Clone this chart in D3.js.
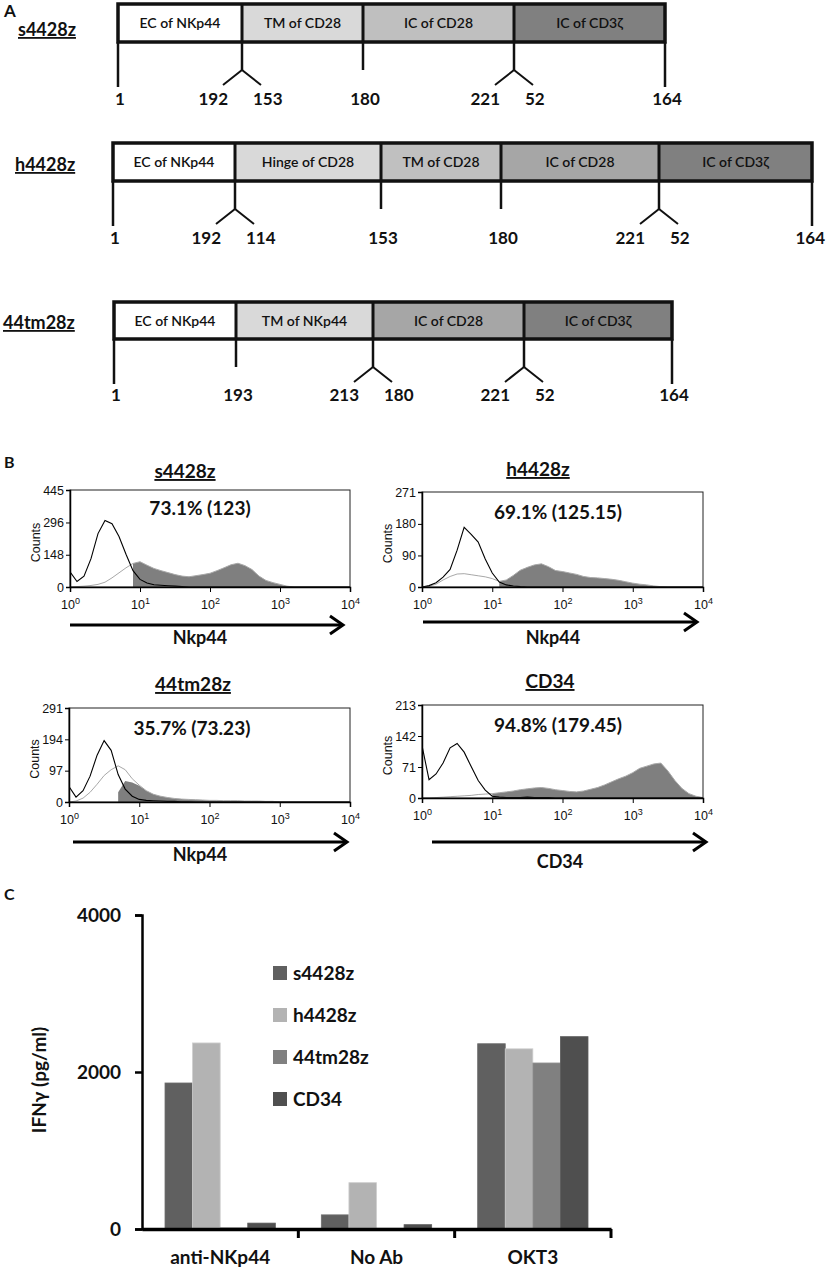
<!DOCTYPE html>
<html lang="en">
<head>
<meta charset="UTF-8">
<title>NKp44 CAR constructs</title>
<style>
  body { margin: 0; background: #fff; }
  svg text { font-family: Lato, "Open Sans", sans-serif; fill: #111; }
</style>
</head>
<body>
<div id="chart-container"></div>
<script src="https://d3js.org/d3.v7.min.js"></script>
<script>
// ---------- panel A: construct maps ----------
const constructNames = ["s4428z", "h4428z", "44tm28z"];
const s4428zDomains = ["EC of NKp44", "TM of CD28", "IC of CD28", "IC of CD3ζ"];
const h4428zDomains = ["EC of NKp44", "Hinge of CD28", "TM of CD28", "IC of CD28", "IC of CD3ζ"];
const tm28zDomains = ["EC of NKp44", "TM of NKp44", "IC of CD28", "IC of CD3ζ"];
const s4428zResidues = [["1"], ["192", "153"], ["180"], ["221", "52"], ["164"]];
const h4428zResidues = [["1"], ["192", "114"], ["153"], ["180"], ["221", "52"], ["164"]];
const tm28zResidues = [["1"], ["193"], ["213", "180"], ["221", "52"], ["164"]];

// ---------- panel B: flow histograms (x = log10 fluorescence) ----------
const logBins = [0, 0.1, 0.2, 0.3, 0.4, 0.5, 0.6, 0.7, 0.8, 0.9, 1, 1.1, 1.2, 1.3, 1.4, 1.5, 1.6, 1.7, 1.8, 1.9,
  2, 2.1, 2.2, 2.3, 2.4, 2.5, 2.6, 2.7, 2.8, 2.9, 3, 3.1, 3.2, 3.3, 3.4, 3.5, 3.6, 3.7, 3.8, 3.9, 4];
const histTitles = ["s4428z", "h4428z", "44tm28z", "CD34"];
const histPercents = ["73.1% (123)", "69.1% (125.15)", "35.7% (73.23)", "94.8% (179.45)"];
const histAxisLabels = ["Nkp44", "Nkp44", "Nkp44", "CD34"];
const histYTicks = [[0, 148, 296, 445], [0, 90, 180, 271], [0, 97, 194, 291], [0, 71, 142, 213]];
const decadeTicks = [0, 1, 2, 3, 4];

const s4428zNeg = [70, 25, 50, 130, 245, 305, 290, 232, 150, 75, 35, 18, 10, 8, 6, 4, 2, 0, 0, 0,
  0, 0, 0, 0, 0, 0, 0, 0, 0, 0, 0, 0, 0, 0, 0, 0, 0, 0, 0, 0, 0];
const s4428zTotal = [0, 2, 4, 7, 12, 22, 42, 65, 88, 108, 116, 100, 85, 75, 66, 57, 50, 47, 52, 57,
  63, 75, 88, 102, 109, 98, 80, 50, 30, 20, 12, 4, 0, 0, 0, 0, 0, 0, 0, 0, 0];
const s4428zPos = [null, null, null, null, null, null, null, null, null, 108, 116, 100, 85, 75, 66, 57, 50, 47, 52, 57,
  63, 75, 88, 102, 109, 98, 80, 50, 30, 20, 12, 4, 0, null, null, null, null, null, null, null, null];

const h4428zNeg = [0, 4, 12, 28, 50, 105, 170, 150, 128, 80, 40, 14, 6, 3, 1, 0, 0, 0, 0, 0,
  0, 0, 0, 0, 0, 0, 0, 0, 0, 0, 0, 0, 0, 0, 0, 0, 0, 0, 0, 0, 0];
const h4428zTotal = [0, 2, 8, 20, 30, 37, 38, 35, 32, 29, 24, 16, 20, 33, 48, 56, 63, 66, 58, 47,
  44, 40, 36, 30, 27, 26, 24, 22, 19, 15, 11, 8, 6, 3, 1, 0, 0, 0, 0, 0, 0];
const h4428zPos = [null, null, null, null, null, null, null, null, null, null, null, 16, 20, 33, 48, 56, 63, 66, 58, 47,
  44, 40, 36, 30, 27, 26, 24, 22, 19, 15, 11, 8, 6, 3, 1, 0, null, null, null, null, null];

const tm28zNeg = [48, 15, 35, 80, 145, 190, 160, 85, 40, 18, 8, 5, 4, 3, 2, 2, 1, 1, 0, 0,
  0, 0, 0, 0, 0, 0, 0, 0, 0, 0, 0, 0, 0, 0, 0, 0, 0, 0, 0, 0, 0];
const tm28zTotal = [0, 3, 12, 30, 55, 82, 100, 112, 100, 72, 52, 35, 24, 18, 14, 11, 9, 8, 7, 6,
  5, 5, 4, 4, 4, 3, 3, 3, 2, 2, 0, 0, 0, 0, 0, 0, 0, 0, 0, 0, 0];
const tm28zPos = [null, null, null, null, null, null, null, 30, 65, 60, 50, 35, 24, 18, 14, 11, 9, 8, 7, 6,
  5, 5, 4, 4, 4, 3, 3, 3, 2, 2, 0, null, null, null, null, null, null, null, null, null, null];

const cd34Neg = [120, 42, 55, 80, 115, 125, 105, 72, 40, 18, 4, 2, 1, 1, 1, 2, 1, 1, 1, 0,
  0, 0, 0, 0, 0, 0, 0, 0, 0, 0, 0, 0, 0, 0, 0, 0, 0, 0, 0, 0, 0];
const cd34Total = [0, 0, 1, 2, 3, 4, 5, 6, 8, 9, 10, 12, 14, 16, 19, 21, 23, 24, 22, 19,
  17, 15, 14, 16, 20, 24, 30, 37, 44, 50, 58, 68, 73, 78, 80, 62, 40, 22, 10, 4, 1];
const cd34Pos = [null, null, null, null, null, null, null, null, null, null, 10, 12, 14, 16, 19, 21, 23, 24, 22, 19,
  17, 15, 14, 16, 20, 24, 30, 37, 44, 50, 58, 68, 73, 78, 80, 62, 40, 22, 10, 4, 1];

// ---------- panel C: IFN-gamma release ----------
const conditions = ["anti-NKp44", "No Ab", "OKT3"];
const constructs = ["s4428z", "h4428z", "44tm28z", "CD34"];
const s4428zIfn = [1860, 180, 2360];
const h4428zIfn = [2370, 590, 2295];
const tm28zIfn = [15, 10, 2115];
const cd34Ifn = [75, 55, 2450];
const ifnTicks = [0, 2000, 4000];

const NARROW = "'Liberation Sans Narrow','Liberation Sans',Arial,sans-serif";
const W = 827, H_ALL = 1274;

const svg = d3.select("#chart-container").append("svg")
  .attr("width", W).attr("height", H_ALL);
svg.append("rect").attr("width", W).attr("height", H_ALL).attr("fill", "#fff");

// ================= panel A =================
const ROWS = [
  {top: 4, bottom: 42, edges: [118, 242, 363, 514, 665], nameX: 18, nameY: 36, labelY: 105,
   fills: ["#ffffff", "#d9d9d9", "#bfbfbf", "#808080"]},
  {top: 143, bottom: 181, edges: [113, 235, 381, 501, 659, 812], nameX: 15, nameY: 171, labelY: 244,
   fills: ["#ffffff", "#d9d9d9", "#c0c0c0", "#a6a6a6", "#808080"]},
  {top: 302, bottom: 339, edges: [114, 236, 373, 524, 672], nameX: 3, nameY: 329, labelY: 401,
   fills: ["#ffffff", "#d9d9d9", "#a6a6a6", "#808080"]}
];
const rowDomains = [s4428zDomains, h4428zDomains, tm28zDomains];
const rowResidues = [s4428zResidues, h4428zResidues, tm28zResidues];

svg.append("text").attr("x", 4).attr("y", 17).attr("font-size", 17).attr("font-weight", "bold").text("A");

constructNames.forEach((name, i) => {
  const L = ROWS[i];
  const g = svg.append("g");
  g.append("text").attr("x", L.nameX).attr("y", L.nameY)
    .attr("font-size", 18).attr("font-weight", "bold")
    .attr("text-decoration", "underline").text(name);

  rowDomains[i].forEach((d, j) => {
    const x0 = L.edges[j], x1 = L.edges[j + 1];
    g.append("rect").attr("x", x0).attr("y", L.top).attr("width", x1 - x0).attr("height", L.bottom - L.top)
      .attr("fill", L.fills[j]).attr("stroke", "none");
    g.append("text").attr("x", (x0 + x1) / 2).attr("y", (L.top + L.bottom) / 2 + 5)
      .attr("text-anchor", "middle").attr("font-size", 14).attr("font-weight", 600).text(d);
  });
  // outer frame + dividers
  g.append("rect").attr("x", L.edges[0]).attr("y", L.top)
    .attr("width", L.edges[L.edges.length - 1] - L.edges[0]).attr("height", L.bottom - L.top)
    .attr("fill", "none").attr("stroke", "#111").attr("stroke-width", 3.5);
  L.edges.slice(1, -1).forEach(x => {
    g.append("line").attr("x1", x).attr("x2", x).attr("y1", L.top).attr("y2", L.bottom)
      .attr("stroke", "#111").attr("stroke-width", 3);
  });

  // residue ticks
  rowResidues[i].forEach((labels, j) => {
    const x = L.edges[j];
    const isEnd = j === 0 || j === L.edges.length - 1;
    const drop = isEnd ? 45 : 28;
    g.append("line").attr("x1", x).attr("x2", x).attr("y1", L.bottom).attr("y2", L.bottom + drop)
      .attr("stroke", "#111").attr("stroke-width", 2.5);
    if (labels.length === 2) {
      const jy = L.bottom + drop;
      g.append("path").attr("d", `M${x - 19},${jy + 15}L${x},${jy}L${x + 19},${jy + 15}`)
        .attr("fill", "none").attr("stroke", "#111").attr("stroke-width", 2);
      g.append("text").attr("x", x - 14).attr("y", L.labelY).attr("text-anchor", "end")
        .attr("font-size", 17).attr("font-weight", "bold").text(labels[0]);
      g.append("text").attr("x", x + 11).attr("y", L.labelY).attr("text-anchor", "start")
        .attr("font-size", 17).attr("font-weight", "bold").text(labels[1]);
    } else {
      const t = g.append("text").attr("x", x + 2).attr("y", L.labelY).attr("text-anchor", "middle")
        .attr("font-size", 17).attr("font-weight", "bold").text(labels[0]);
      // keep the label inside the page
      const half = t.node().getComputedTextLength() / 2;
      if (x + 2 + half > W - 2) t.attr("x", W - 2 - half);
    }
  });
});

// ================= panel B =================
svg.append("text").attr("x", 4).attr("y", 468).attr("font-size", 16).attr("font-weight", "bold").text("B");

const HISTS = [
  {x0: 70, x1: 350, y0: 490, y1: 587, titleX: 185, titleY: 478, pctX: 200, pctY: 515, arrowY: 625, ax0: 70, ax1: 343, labelX: 200, labelY: 644},
  {x0: 422, x1: 703, y0: 492, y1: 587, titleX: 538, titleY: 476, pctX: 558, pctY: 519, arrowY: 622, ax0: 423, ax1: 697, labelX: 553, labelY: 644},
  {x0: 69, x1: 350, y0: 708, y1: 802, titleX: 193, titleY: 691, pctX: 192, pctY: 735, arrowY: 842, ax0: 73, ax1: 347, labelX: 200, labelY: 861},
  {x0: 422, x1: 703, y0: 705, y1: 798, titleX: 550, titleY: 688, pctX: 558, pctY: 732, arrowY: 842, ax0: 432, ax1: 706, labelX: 560, labelY: 868}
];
const histNeg = [s4428zNeg, h4428zNeg, tm28zNeg, cd34Neg];
const histTotal = [s4428zTotal, h4428zTotal, tm28zTotal, cd34Total];
const histPos = [s4428zPos, h4428zPos, tm28zPos, cd34Pos];

HISTS.forEach((H, i) => {
  const ticks = histYTicks[i];
  const x = d3.scaleLinear().domain([0, 4]).range([H.x0, H.x1]);
  const y = d3.scaleLinear().domain([0, ticks[ticks.length - 1]]).range([H.y1, H.y0]);
  const g = svg.append("g");

  const clipId = "clip" + i;
  g.append("clipPath").attr("id", clipId).append("rect")
    .attr("x", H.x0).attr("y", H.y0).attr("width", H.x1 - H.x0).attr("height", H.y1 - H.y0);
  const plot = g.append("g").attr("clip-path", `url(#${clipId})`);

  const pts = arr => logBins.map((b, k) => ({b: b, v: arr[k]}));
  const area = d3.area().defined(d => d.v !== null)
    .x(d => x(d.b)).y0(y(0)).y1(d => y(d.v));
  const line = d3.line().x(d => x(d.b)).y(d => y(d.v));

  plot.append("path").datum(pts(histPos[i])).attr("d", area).attr("fill", "#7f7f7f");
  plot.append("path").datum(pts(histTotal[i])).attr("d", line)
    .attr("fill", "none").attr("stroke", "#a8a8a8").attr("stroke-width", 1);
  plot.append("path").datum(pts(histNeg[i])).attr("d", line)
    .attr("fill", "none").attr("stroke", "#000").attr("stroke-width", 1.1);

  g.append("rect").attr("x", H.x0).attr("y", H.y0).attr("width", H.x1 - H.x0).attr("height", H.y1 - H.y0)
    .attr("fill", "none").attr("stroke", "#222").attr("stroke-width", 1);

  // axes
  const ya = g.append("g").attr("transform", `translate(${H.x0},0)`)
    .call(d3.axisLeft(y).tickValues(ticks).tickSize(4).tickPadding(2));
  ya.select(".domain").attr("stroke-width", 1.5);
  ya.selectAll("text").attr("font-size", 12.5).attr("fill", "#222").style("font-family", NARROW);

  const xa = g.append("g").attr("transform", `translate(0,${H.y1})`)
    .call(d3.axisBottom(x).tickValues(decadeTicks).tickSize(5).tickFormat(""));
  xa.select(".domain").attr("stroke-width", 1.5);
  xa.selectAll(".tick").append("text").attr("y", 22).attr("fill", "#222")
    .attr("text-anchor", "middle").style("font-family", NARROW).attr("font-size", 12.5)
    .each(function(d) {
      const t = d3.select(this);
      t.append("tspan").text("10");
      t.append("tspan").attr("dy", -5).attr("font-size", 9).text(d);
    });

  g.append("text")
    .attr("transform", `translate(${H.x0 - 30},${(H.y0 + H.y1) / 2 + 4}) rotate(-90)`)
    .attr("text-anchor", "middle").attr("font-size", 12.5).attr("fill", "#222")
    .style("font-family", NARROW).text("Counts");

  g.append("text").attr("x", H.titleX).attr("y", H.titleY).attr("text-anchor", "middle")
    .attr("font-size", 19).attr("font-weight", "bold").attr("text-decoration", "underline")
    .text(histTitles[i]);
  g.append("text").attr("x", H.pctX).attr("y", H.pctY).attr("text-anchor", "middle")
    .attr("font-size", 19).attr("font-weight", "bold").text(histPercents[i]);

  g.append("line").attr("x1", H.ax0).attr("x2", H.ax1 - 2).attr("y1", H.arrowY).attr("y2", H.arrowY)
    .attr("stroke", "#000").attr("stroke-width", 3);
  g.append("path").attr("d", `M${H.ax1 - 13},${H.arrowY - 9}L${H.ax1},${H.arrowY}L${H.ax1 - 13},${H.arrowY + 9}`)
    .attr("fill", "none").attr("stroke", "#000").attr("stroke-width", 3);
  g.append("text").attr("x", H.labelX).attr("y", H.labelY).attr("text-anchor", "middle")
    .attr("font-size", 18).attr("font-weight", "bold").text(histAxisLabels[i]);
});

// ================= panel C =================
svg.append("text").attr("x", 4).attr("y", 900).attr("font-size", 16).attr("font-weight", "bold").text("C");

const C = {left: 142, right: 611, top: 915, bottom: 1229};
const seriesValues = [s4428zIfn, h4428zIfn, tm28zIfn, cd34Ifn];
const barColors = ["#606060", "#b3b3b3", "#808080", "#4f4f4f"];

const x0 = d3.scaleBand().domain(conditions).range([C.left, C.right]).padding(0);
const x1 = d3.scaleBand().domain(constructs).range([23, x0.bandwidth() - 23]).padding(0);
const yC = d3.scaleLinear().domain([0, 4000]).range([C.bottom, C.top]);

const gc = svg.append("g");
conditions.forEach((cond, ci) => {
  constructs.forEach((s, si) => {
    const v = seriesValues[si][ci];
    gc.append("rect")
      .attr("x", x0(cond) + x1(s)).attr("y", yC(v))
      .attr("width", x1.bandwidth()).attr("height", yC(0) - yC(v))
      .attr("fill", barColors[si]).attr("stroke", d3.color(barColors[si]).brighter(0.4)).attr("stroke-width", 0.8);
  });
});

const yAx = gc.append("g").attr("transform", `translate(${C.left},0)`)
  .call(d3.axisLeft(yC).tickValues(ifnTicks).tickSize(7).tickPadding(14).tickFormat(d3.format("d")));
yAx.select(".domain").attr("stroke-width", 2.5);
yAx.selectAll("line").attr("stroke-width", 2.5);
yAx.selectAll("text").attr("font-size", 19).attr("font-weight", "bold").attr("fill", "#111")
  .style("font-family", "Lato, 'Open Sans', sans-serif");

const xAx = gc.append("g").attr("transform", `translate(0,${C.bottom})`)
  .call(d3.axisBottom(x0).tickSize(0).tickPadding(22));
xAx.select(".domain").attr("stroke-width", 3.5);
xAx.selectAll("text").attr("font-size", 19).attr("font-weight", "bold").attr("fill", "#111")
  .style("font-family", "Lato, 'Open Sans', sans-serif");
// group separators below the axis
conditions.forEach(cond => {
  gc.append("line").attr("x1", x0(cond) + x0.bandwidth()).attr("x2", x0(cond) + x0.bandwidth())
    .attr("y1", C.bottom).attr("y2", C.bottom + 9).attr("stroke", "#000").attr("stroke-width", 3);
});

gc.append("text")
  .attr("transform", `translate(46,${(C.top + C.bottom) / 2 + 8}) rotate(-90)`)
  .attr("text-anchor", "middle").attr("font-size", 19).attr("font-weight", "bold")
  .text("IFNγ (pg/ml)");

// legend
const lg = gc.append("g").attr("transform", "translate(273,966)");
constructs.forEach((s, si) => {
  const row = lg.append("g").attr("transform", `translate(0,${si * 42})`);
  row.append("rect").attr("width", 14).attr("height", 14).attr("fill", barColors[si]);
  row.append("text").attr("x", 20).attr("y", 14).attr("font-size", 19).attr("font-weight", "bold").text(s);
});
</script>
</body>
</html>
